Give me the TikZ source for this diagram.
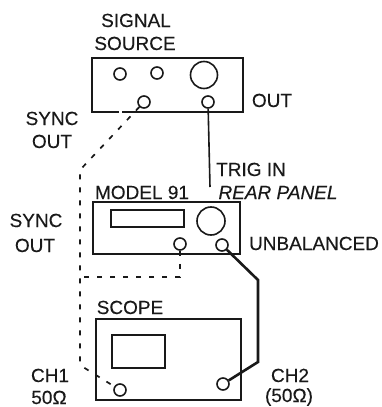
\documentclass[tikz,border=0pt]{standalone}
\usepackage{fontspec}
\setmainfont[FakeBold=0.25]{Liberation Sans}
\begin{document}
\begin{tikzpicture}[x=1pt,y=-1pt,
  ink/.style={draw=black!90,line width=1.6pt},
  panel/.style={ink,fill=none},
  lbl/.style={anchor=base,inner sep=0pt,text=black!90,font=\fontsize{19}{19}\selectfont},
  port/.style={circle,ink,inner sep=0pt,minimum size=12pt},
  knob/.style={circle,ink,inner sep=0pt,minimum size=27pt},
  sig/.style={draw=black!90,line width=1.6pt},
  thick sig/.style={draw=black!90,line width=2.6pt,line join=miter},
  dash sig/.style={draw=black!90,line width=1.7pt,dash pattern=on 5pt off 8pt}]
\useasboundingbox (0,0) rectangle (382,407);
\fill[white] (0,0) rectangle (382,407);
% signal source
\draw[ink] (122,112) -- (243,112) -- (243,58) -- (92,58) -- (92,112) -- (119,112);
\node[port] (s1) at (120,74) {};
\node[port] (s2) at (157,73) {};
\node[knob] (s3) at (204,75) {};
\node[port] (syncA) at (144,102) {};
\node[port] (outA) at (208,102) {};
% model 91
\draw[panel] (93,202) rectangle (240,254);
\draw[panel] (111,210) rectangle (184,227);
\node[knob,minimum size=28pt] (m3) at (211,221) {};
\node[port] (syncB) at (180,244) {};
\node[port] (unbal) at (222,245) {};
% scope
\draw[panel] (96,319) rectangle (241,400);
\draw[panel] (112,335) rectangle (165,368);
\node[port] (ch1) at (120,390) {};
\node[port] (ch2) at (223,384) {};
% connectors
\coordinate (trig) at (210,187);
\coordinate (d1) at (80,170);
\coordinate (d2) at (79,277);
\coordinate (d3) at (80,362);
\coordinate (d4) at (180,277);
\coordinate (t1) at (258,280);
\coordinate (t2) at (258,362);
\draw[sig] (outA) -- (trig);
\draw[dash sig] (syncA) -- (d1) -- (d3) -- ++(3,5) -- (ch1);
\draw[dash sig] (syncB) -- (d4) -- (d2);
\draw[thick sig] (unbal) -- (t1) -- (t2) -- (ch2);
% labels
\node[lbl] (a) at (136,27) {SIGNAL};
\node[lbl] (b) at (135,50) {SOURCE};
\node[lbl] (c) at (272,107) {OUT};
\node[lbl] (d) at (52,125) {SYNC};
\node[lbl] (e) at (52,148) {OUT};
\node[lbl] (f) at (251,176) {TRIG IN};
\node[lbl,font=\fontsize{19}{19}\selectfont\itshape] (g) at (278,199) {REAR PANEL};
\node[lbl] (h) at (142,199) {MODEL 91};
\node[lbl] (i) at (36,227) {SYNC};
\node[lbl] (j) at (35,252) {OUT};
\node[lbl] (k) at (314,250) {UNBALANCED};
\node[lbl] (l) at (130,314) {SCOPE};
\node[lbl] (m) at (50,382) {CH1};
\node[lbl] (n) at (49,404) {50Ω};
\node[lbl] (o) at (290,382) {CH2};
\node[lbl] (p) at (289,402) {(50Ω)};
\end{tikzpicture}
\end{document}
